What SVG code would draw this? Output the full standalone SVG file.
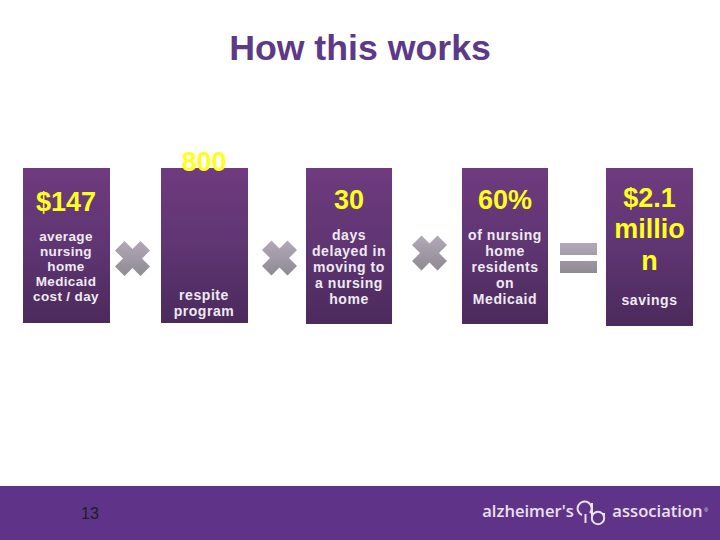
<svg xmlns="http://www.w3.org/2000/svg" width="720" height="540" viewBox="0 0 720 540">
<style>
text{font-family:"Liberation Sans",Arial,sans-serif;text-anchor:middle}
.t{font-size:35.7px;font-weight:700;fill:#5c3a87}
.y{font-size:27px;font-weight:700;fill:#ffff1e}
.s{font-size:13.5px;font-weight:700;fill:#eeebf1;letter-spacing:.35px}
.m{font-size:14px;font-weight:700;fill:#eeebf1;letter-spacing:.55px}
.l{font-size:16.6px;font-weight:600;fill:#e9e1ef;font-family:"Open Sans","Liberation Sans",sans-serif}
.b{fill:url(#pg)}
.op{fill:url(#gg)}
</style>
<defs>
<linearGradient id="pg" x1="0" y1="0" x2="0" y2="1"><stop offset="0" stop-color="#6f3b7e"/><stop offset=".5" stop-color="#5f3572"/><stop offset="1" stop-color="#4b2a5c"/></linearGradient>
<linearGradient id="gg" x1="0" y1="0" x2="0" y2="1"><stop offset="0" stop-color="#b3a8b8"/><stop offset="1" stop-color="#8f8a94"/></linearGradient>
<linearGradient id="g1" gradientUnits="userSpaceOnUse" x1="0" y1="243" x2="0" y2="273"><stop offset="0" stop-color="#b3a8b8"/><stop offset="1" stop-color="#8f8a94"/></linearGradient>
<path id="x" d="M-8,-17.500 L0,-9.500 L8,-17.500 L17.500,-8 L9.500,0 L17.500,8 L8,17.500 L0,9.500 L-8,17.500 L-17.500,8 L-9.500,0 L-17.500,-8 Z"/>
</defs>
<rect width="720" height="540" fill="#fff"/>
<text class="t" x="360" y="60">How this works</text>
<g id="node-147"><rect class="b" x="23" y="168" width="87" height="155"/>
<text class="y" x="66" y="211">$147</text>
<text class="s" x="66" y="241">average</text><text class="s" x="66" y="256">nursing</text><text class="s" x="66" y="271">home</text><text class="s" x="66" y="286">Medicaid</text><text class="s" x="66" y="301">cost / day</text></g>
<g id="node-800"><rect class="b" x="161" y="168" width="87" height="155"/>
<text class="y" x="204" y="171">800</text>
<text class="m" x="204" y="300">respite</text><text class="m" x="204" y="316">program</text></g>
<g id="node-30"><rect class="b" x="306" y="168" width="86" height="156"/>
<text class="y" x="349" y="209">30</text>
<text class="m" x="349" y="240">days</text><text class="m" x="349" y="256">delayed in</text><text class="m" x="349" y="272">moving to</text><text class="m" x="349" y="288">a nursing</text><text class="m" x="349" y="304">home</text></g>
<g id="node-60"><rect class="b" x="462" y="168" width="86" height="156"/>
<text class="y" x="505" y="209">60%</text>
<text class="m" x="505" y="240">of nursing</text><text class="m" x="505" y="256">home</text><text class="m" x="505" y="272">residents</text><text class="m" x="505" y="288">on</text><text class="m" x="505" y="304">Medicaid</text></g>
<g id="node-result"><rect class="b" x="606" y="168" width="87" height="158"/>
<text class="y" x="649.500" y="207">$2.1</text><text class="y" x="649.500" y="238">millio</text><text class="y" x="649.500" y="270">n</text>
<text class="m" x="649.500" y="305">savings</text></g>
<g id="operators">
<use href="#x" class="op" x="132.500" y="258.500"/>
<use href="#x" class="op" x="279.500" y="258"/>
<use href="#x" class="op" x="429.500" y="253"/>
<rect x="560" y="243" width="37" height="12" fill="url(#g1)"/>
<rect x="560" y="261" width="37" height="12" fill="url(#g1)"/>
</g>
<rect id="footer" x="0" y="486" width="720" height="54" fill="#5f3488"/>
<text x="90" y="519" style="font-size:16px;fill:#1c1c2a">13</text>
<g id="logo">
<text class="l" x="528" y="517">alzheimer's</text>
<path d="M582,515 A7,7 0 1 1 590,513 M585.500,514 V523 M592,503 V518 M604,513 V516" fill="none" stroke="#e9e1ef" stroke-width="2"/>
<circle cx="598" cy="518" r="6.200" fill="none" stroke="#e9e1ef" stroke-width="2"/>
<text class="l" x="657.500" y="517">association</text>
<text x="706" y="512" style="font-size:5px;fill:#e9e1ef">®</text>
</g>
</svg>
